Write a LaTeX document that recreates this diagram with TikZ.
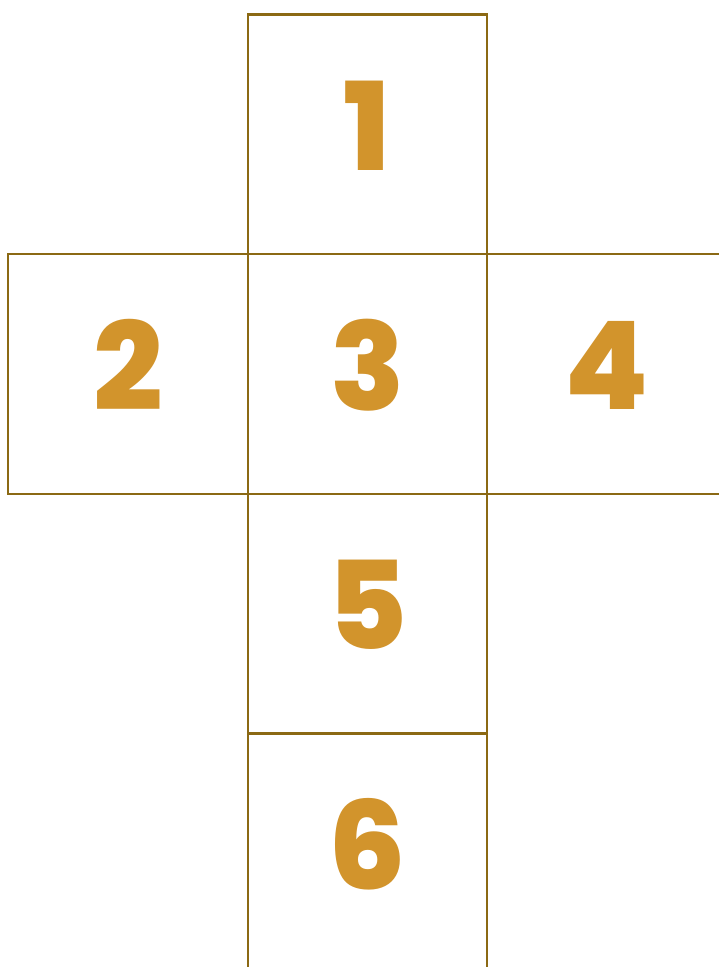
\documentclass[tikz,border=0pt]{standalone}
\usepackage{fontspec}
\setmainfont{Poppins}[UprightFont={* ExtraBold}, BoldFont={* Black}]
\usepackage{xcolor}
\usetikzlibrary{positioning}
\definecolor{edgebrown}{RGB}{139, 105, 20}
\definecolor{digitorange}{RGB}{210, 148, 44}

\begin{document}
\begin{tikzpicture}[
    x=0.025cm, y=-0.025cm,
    face/.style={rectangle, draw=edgebrown, line width=1.5pt, minimum size=5.99cm, outer sep=0pt, inner sep=0pt},
    digit/.style={text=digitorange, font=\fontsize{87}{87}\selectfont, inner sep=0pt, yshift=0.22cm}
]
    \useasboundingbox (0,0) rectangle (718,967);

    % middle row
    \node[face, label={[digit]center:3}] (face3) at (367.5,374) {};
    \node[face, label={[digit]center:2}, left=0pt of face3] (face2) {};
    \node[face, label={[digit]center:4}, right=0pt of face3] (face4) {};

    % column
    \node[face, label={[digit]center:1}, above=0pt of face3] (face1) {};
    \node[face, label={[digit]center:5}, below=0pt of face3] (face5) {};
    \node[face, label={[digit]center:6}, below=0pt of face5] (face6) {};

\end{tikzpicture}
\end{document}
